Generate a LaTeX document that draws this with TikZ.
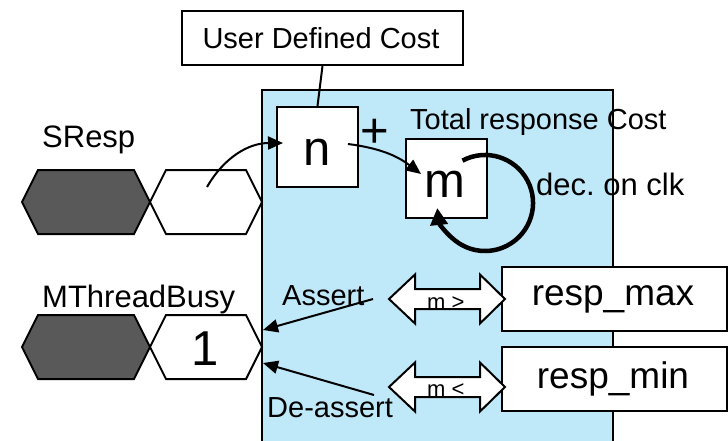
\documentclass[tikz,border=0pt]{standalone}
\usepackage{fontspec}
\setmainfont{Liberation Sans}
\usetikzlibrary{arrows.meta,calc}
\definecolor{panelblue}{RGB}{191,232,249}
\definecolor{hexdark}{RGB}{89,89,89}
\frenchspacing
\begin{document}
\begin{tikzpicture}[x=1pt,y=-1pt,
  box/.style={draw, line width=2pt, fill=white, inner sep=0pt},
  lbl/.style={inner sep=0pt, font=\fontsize{29}{31}\selectfont},
  biglbl/.style={inner sep=0pt, font=\fontsize{31}{33}\selectfont},
  big/.style={inner sep=0pt, font=\fontsize{49}{51}\selectfont},
  small/.style={inner sep=0pt, font=\fontsize{22}{24}\selectfont},
  rbox/.style={inner sep=0pt, font=\fontsize{37}{39}\selectfont},
  hexline/.style={line width=2pt, line join=miter},
  conn/.style={line width=2pt, -{Triangle[length=15pt,width=13pt]}},
  loopconn/.style={line width=4.5pt, -{Triangle[length=17pt,width=17pt]}},
  dbl/.style={line width=2pt, fill=white, line join=miter},
]
\useasboundingbox (0,0) rectangle (728,440);
\clip (0,0) rectangle (728,440);

% panel
\fill[panelblue] (262,90) rectangle (613,450);
\draw[line width=2pt] (262,450) -- (262,90) -- (613,90) -- (613,450);

% hexagons SResp
\draw[hexline, fill=hexdark] (22,202) -- (38,170) -- (134,170) -- (150,202) -- (134,234) -- (38,234) -- cycle;
\draw[hexline, fill=white] (150,202) -- (166,170) -- (246,170) -- (262,202) -- (246,234) -- (166,234) -- cycle;
% hexagons MThreadBusy
\draw[hexline, fill=hexdark] (22,347) -- (38,315) -- (134,315) -- (150,347) -- (134,379) -- (38,379) -- cycle;
\draw[hexline, fill=white] (150,347) -- (166,315) -- (246,315) -- (262,347) -- (246,379) -- (166,379) -- cycle;

% labels
\node[biglbl, anchor=base west] (sresp) at (42,147) {SResp};
\node[biglbl, anchor=base west] (mtb) at (42,307) {MThreadBusy};
\node[big, anchor=base] (one) at (205,365) {1};

% boxes
\node[box, minimum width=281, minimum height=54] (ud) at (322.5,38) {};
\node[lbl] (udt) at (321,38) {User Defined Cost};
\node[box, minimum width=81, minimum height=80] (n) at (317.5,147) {};
\node[big, anchor=base] (nt) at (317.5,165) {n};
\node[box, minimum width=81, minimum height=79] (m) at (446.5,178.5) {};
\node[big, anchor=base] (mt) at (445,197) {m};
\node[big] (plus) at (375,133) {+};
\node[lbl, anchor=base west] (total) at (410,129) {Total response Cost};
\node[biglbl, anchor=base west] (dec) at (536,195) {dec. on clk};

\node[box, minimum width=225, minimum height=64] (rmax) at (614.5,299) {};
\node[rbox] (rmaxt) at (613,299) {resp\_max};
\node[box, minimum width=225, minimum height=64] (rmin) at (614.5,379) {};
\node[rbox] (rmint) at (613,379) {resp\_min};

% double arrows
\begin{scope}[shift={(447,299)}]
\draw[dbl] (-58,0) -- (-32,-24.5) -- (-32,-10) -- (33,-10) -- (33,-24.5) -- (58,0) -- (33,24.5) -- (33,10) -- (-32,10) -- (-32,24.5) -- cycle;
\end{scope}
\begin{scope}[shift={(447,387)}]
\draw[dbl] (-58,0) -- (-32,-24.5) -- (-32,-10) -- (33,-10) -- (33,-24.5) -- (58,0) -- (33,24.5) -- (33,10) -- (-32,10) -- (-32,24.5) -- cycle;
\end{scope}
\node[small, anchor=base west] (gt) at (427,309) {m >};
\node[small, anchor=base west] (lt) at (427,396) {m <};

\node[lbl, anchor=base west] (assert) at (282,305) {Assert};
\node[lbl, anchor=base west] (deassert) at (267,417) {De-assert};

% connector coordinates
\coordinate (srespsrc) at (207,187);
\coordinate (nin) at (283,143);
\coordinate (nout) at (348,144);
\coordinate (min) at (421,174);
\coordinate (asrc) at (373,299);
\coordinate (atip) at (263,330);
\coordinate (dsrc) at (374,395);
\coordinate (dtip) at (263,363);
\coordinate (loopstart) at (462.5,160.6);

% connectors
\draw[line width=2pt] (ud.south) -- (n.north);
\draw[conn] (srespsrc) to[bend left=30] (nin);
\draw[conn] (nout) to[bend left=15] (min);
\draw[conn] (asrc) -- (atip);
\draw[conn] (dsrc) -- (dtip);
\draw[loopconn] (loopstart) arc[start angle=-118, end angle=174, radius=48];
\end{tikzpicture}
\end{document}
